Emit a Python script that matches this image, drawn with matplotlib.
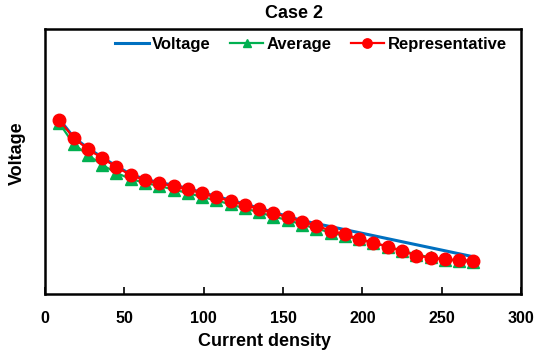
import matplotlib
matplotlib.use("Agg")
import matplotlib.pyplot as plt

# ----------------------------------------------------------------------------
# Data (y axis has no labels, so voltage is in
# arbitrary units on a 0-1 scale)
# ----------------------------------------------------------------------------
current_density = [9, 18, 27, 36, 45, 54, 63, 72, 81, 90,
                   99, 108, 117, 126, 135, 144, 153, 162, 171, 180,
                   189, 198, 207, 216, 225, 234, 243, 252, 261, 270]

representative = [0.657, 0.589, 0.547, 0.513, 0.479, 0.449, 0.430, 0.417, 0.408, 0.395,
                  0.380, 0.365, 0.351, 0.336, 0.321, 0.305, 0.290, 0.273, 0.258, 0.239,
                  0.225, 0.208, 0.194, 0.179, 0.162, 0.145, 0.137, 0.131, 0.128, 0.126]

average = [0.645, 0.566, 0.525, 0.487, 0.457, 0.434, 0.419, 0.408, 0.394, 0.381,
           0.366, 0.353, 0.338, 0.323, 0.308, 0.292, 0.279, 0.262, 0.247, 0.232,
           0.219, 0.206, 0.192, 0.179, 0.164, 0.149, 0.138, 0.130, 0.125, 0.121]

voltage_x = [9, 18, 27, 36, 45, 54, 63, 72, 81, 90,
             99, 108, 117, 126, 135, 144, 153, 162, 268]
voltage = [0.660, 0.592, 0.550, 0.516, 0.482, 0.452, 0.433, 0.420, 0.411, 0.398,
           0.383, 0.368, 0.354, 0.339, 0.324, 0.308, 0.293, 0.277, 0.143]

x_ticks = [0, 50, 100, 150, 200, 250, 300]

BLUE = "#0070C0"
GREEN = "#00B050"
RED = "#FF0000"

plt.rcParams["font.family"] = ["Liberation Sans", "DejaVu Sans"]
plt.rcParams["font.weight"] = "bold"

fig = plt.figure(figsize=(5.4, 3.53), dpi=100)
ax = fig.add_axes([45 / 540, 1 - 294 / 353, 476 / 540, 265 / 353])

ax.plot(voltage_x, voltage, color=BLUE, lw=2.2, label="Voltage", zorder=2)
ax.plot(current_density, average, color=GREEN, lw=1.6, marker="^", ms=8,
        label="Average", zorder=3)
ax.plot(current_density, representative, color=RED, lw=1.6, marker="o", ms=9,
        label="Representative", zorder=4)

ax.set_xlim(0, 300)
ax.set_ylim(0, 1)
ax.set_xticks(x_ticks)
ax.set_yticks([])
ax.tick_params(axis="x", direction="in", length=5, width=1.2,
               labelsize=11.5, pad=12)
for lab in ax.get_xticklabels():
    lab.set_fontweight("bold")
for sp in ax.spines.values():
    sp.set_linewidth(1.8)
    sp.set_color("black")

leg = ax.legend(loc="center", bbox_to_anchor=((311 - 45) / 476, 1 - 15 / 265),
                ncol=3, frameon=False, handlelength=2.0, handletextpad=0.2,
                columnspacing=1.15, borderaxespad=0, markerscale=0.75,
                prop={"size": 12, "weight": "bold"})

fig.text(294 / 540, 1 - 14 / 353, "Case 2", ha="center", va="center",
         fontsize=13, fontweight="bold")
fig.text(265 / 540, 1 - 341 / 353, "Current density", ha="center", va="center",
         fontsize=13, fontweight="bold")
fig.text(17 / 540, 1 - 153 / 353, "Voltage", ha="center", va="center",
         rotation=90, fontsize=13, fontweight="bold")

fig.savefig("out.png", dpi=100)
